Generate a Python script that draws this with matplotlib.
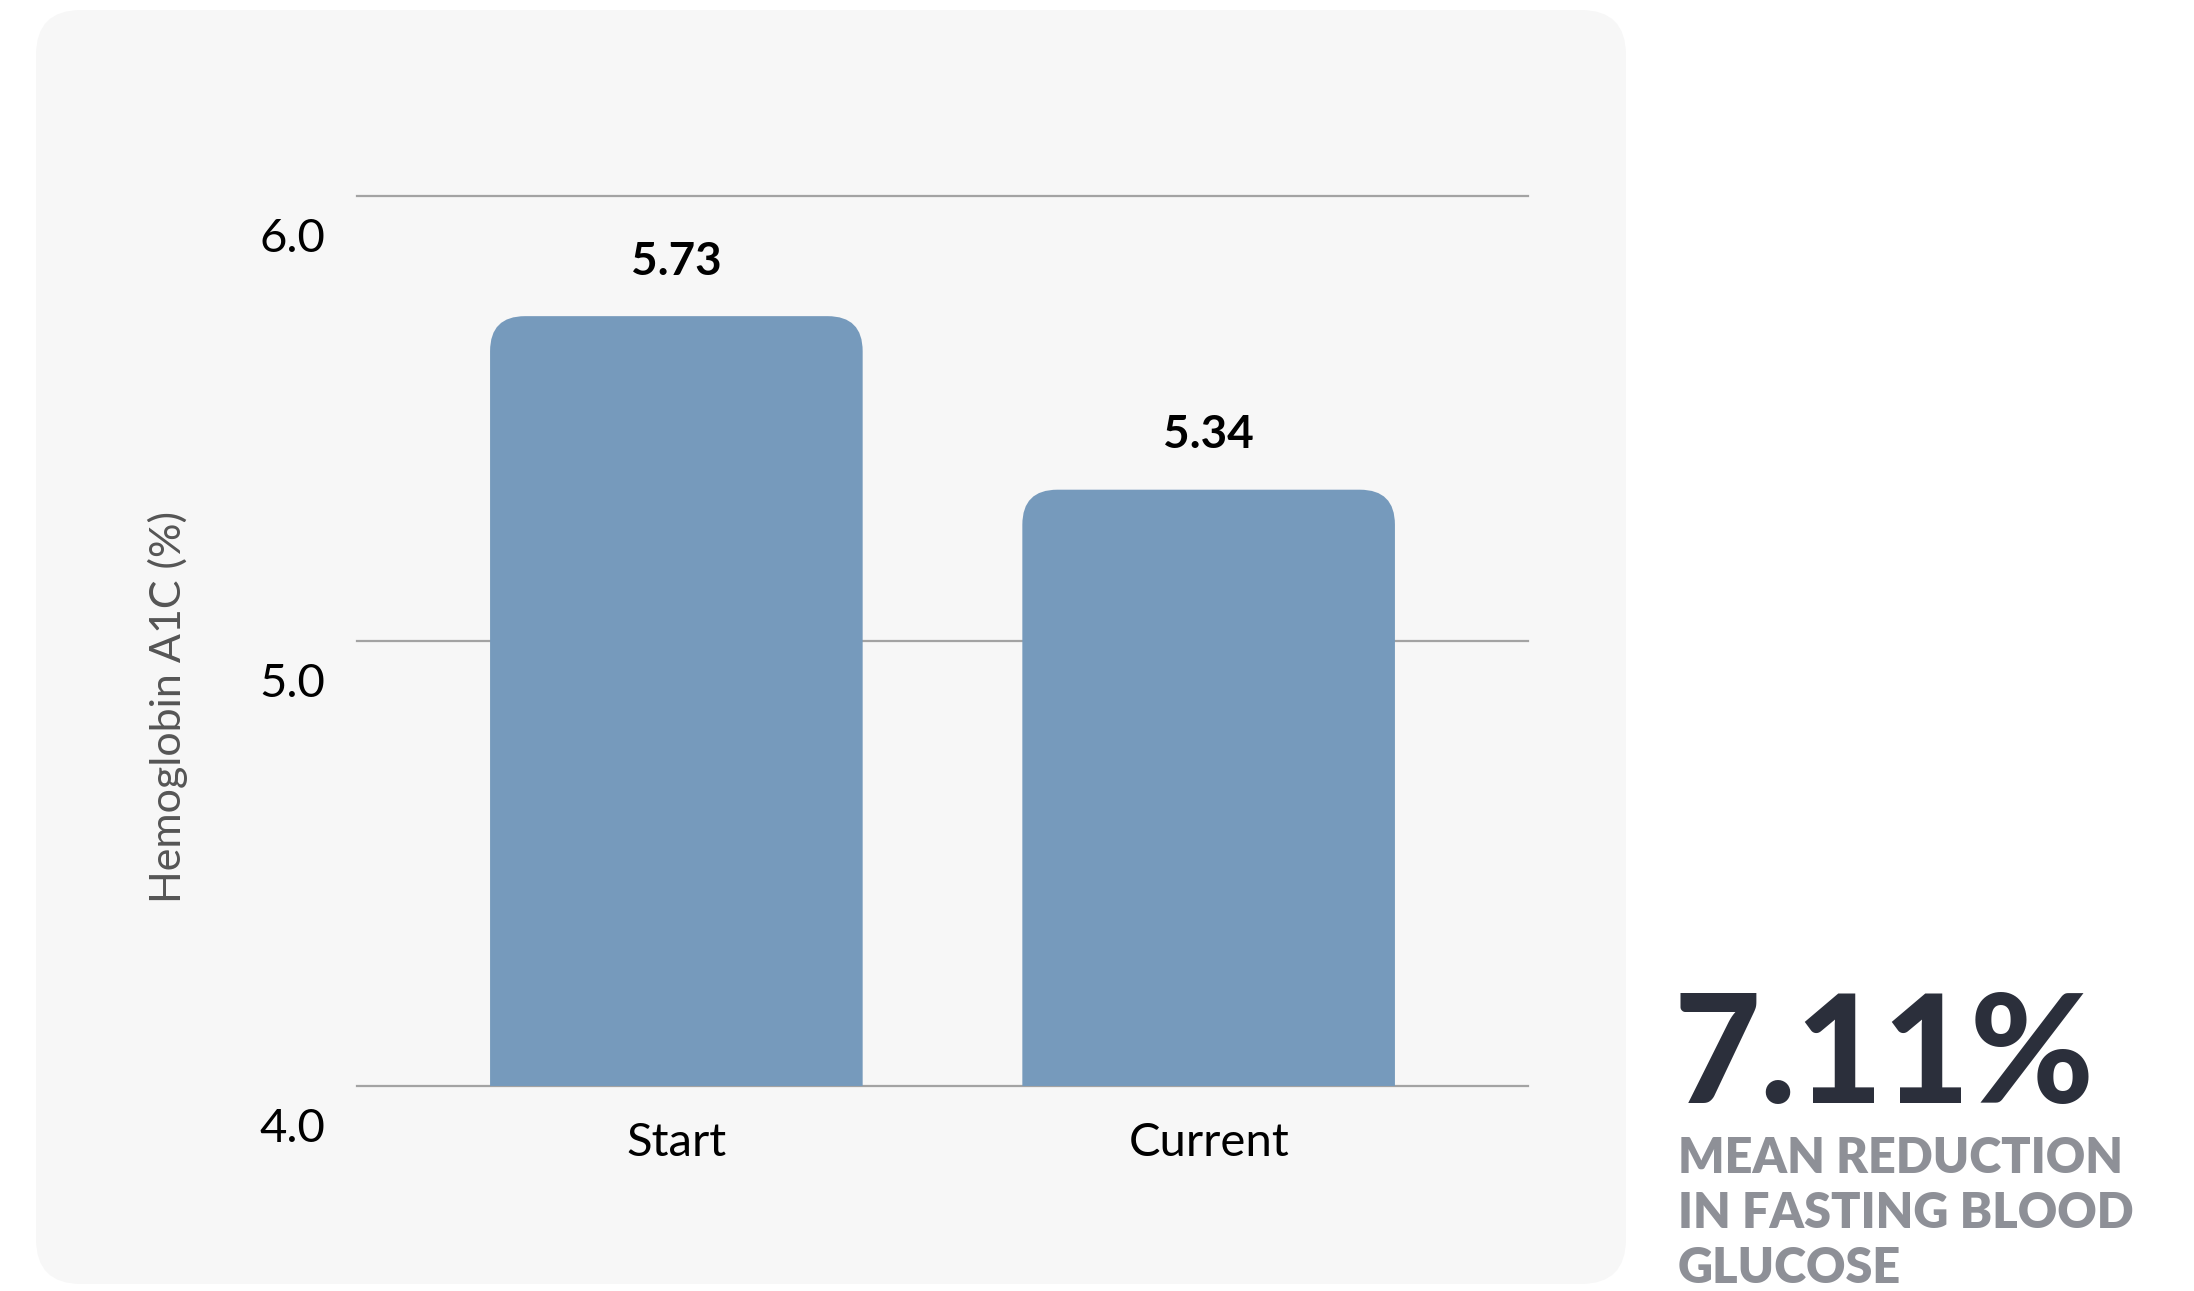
import matplotlib
matplotlib.use('Agg')
import matplotlib.pyplot as plt
from matplotlib.patches import FancyBboxPatch, PathPatch
from matplotlib.path import Path
from matplotlib.transforms import ScaledTranslation, blended_transform_factory

plt.rcParams['font.family'] = ['Lato', 'DejaVu Sans']

categories = ['Start', 'Current']
a1c_values = [5.73, 5.34]
yticks = [4.0, 5.0, 6.0]
ylabel = 'Hemoglobin A1C (%)'
headline = '7.11%'
caption = ['MEAN REDUCTION', 'IN FASTING BLOOD', 'GLUCOSE']

W, H = 2194, 1291
fig = plt.figure(figsize=(W / 100, H / 100), dpi=100)
fig.patch.set_facecolor('white')

# light rounded card behind the chart
r = 45 / W
card = FancyBboxPatch((36 / W, 1 - 1284 / H), (1626 - 36) / W, (1284 - 10) / H,
                      boxstyle=f'round,pad=0,rounding_size={r}',
                      mutation_aspect=W / H, transform=fig.transFigure,
                      facecolor='#f7f7f7', edgecolor='none', zorder=-5)
fig.patches.append(card)

ax = fig.add_axes([357 / W, 1 - 1086 / H, (1528 - 357) / W, (1086 - 196) / H])
ax.set_zorder(2)
ax.patch.set_visible(False)
ax.set_xlim(-0.6, 1.6)
ax.set_ylim(4.0, 6.0)
for s in ax.spines.values():
    s.set_visible(False)

for t in yticks:
    ax.axhline(t, color='#a3a3a3', lw=1.6, zorder=1, clip_on=False)


def top_rounded(x0, y0, w, h, rx, ry):
    verts = [(x0, y0), (x0, y0 + h - ry), (x0, y0 + h), (x0 + rx, y0 + h),
             (x0 + w - rx, y0 + h), (x0 + w, y0 + h), (x0 + w, y0 + h - ry),
             (x0 + w, y0), (x0, y0)]
    codes = [Path.MOVETO, Path.LINETO, Path.CURVE3, Path.CURVE3,
             Path.LINETO, Path.CURVE3, Path.CURVE3, Path.LINETO, Path.CLOSEPOLY]
    return Path(verts, codes)


x = list(range(len(categories)))
bars = ax.bar(x, [v - 4.0 for v in a1c_values], bottom=4.0, width=0.7,
              color='none', edgecolor='none')

# swap the plain bars for ones with rounded top corners (~35px radius)
rx = 35 * 2.2 / 1171
ry = 35 * 2.0 / 890
for b, v in zip(bars, a1c_values):
    x0, w, h = b.get_x(), b.get_width(), b.get_height()
    ax.add_patch(PathPatch(top_rounded(x0, 4.0, w, h, rx, ry),
                           facecolor='#769abc', edgecolor='none', zorder=2))
    ax.annotate(f'{v:.2f}', (x0 + w / 2, v), xytext=(0, 24),
                textcoords='offset points', ha='center', va='bottom',
                fontsize=33, fontweight='bold', color='black')

ax.set_xticks(x)
ax.set_xticklabels(categories, fontsize=34)
ax.tick_params(axis='x', length=0, pad=26)
ax.set_yticks([])

# y tick labels sit just under their grid lines
trans = blended_transform_factory(ax.transAxes, ax.transData)
off = ScaledTranslation(0, -16 / 72, fig.dpi_scale_trans)
for t in yticks:
    ax.text(-0.027, t, f'{t:.1f}', transform=trans + off, ha='right', va='top',
            fontsize=34, color='black')

fig.text(168 / W, 1 - 707 / H, ylabel, rotation=90, ha='center', va='center',
         fontsize=31, fontweight='normal', color='#555555')

fig.text(1674 / W, 1 - 1103 / H, headline, ha='left', va='baseline',
         fontsize=108, fontweight='black', color='#2b2f3b')
for i, line in enumerate(caption):
    fig.text(1678 / W, 1 - (1173 + 55 * i) / H, line, ha='left', va='baseline',
             fontsize=35, fontweight='heavy', color='#8e9097')

fig.savefig('out.png', dpi=100, facecolor='white')
